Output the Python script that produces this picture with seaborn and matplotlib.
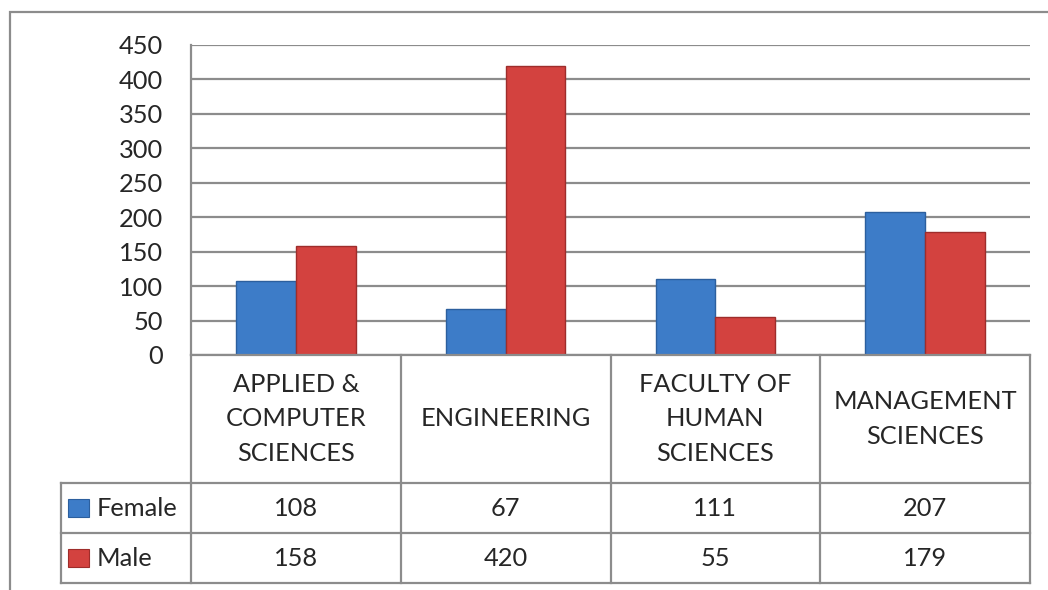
import matplotlib
matplotlib.use("Agg")
import matplotlib.pyplot as plt
from matplotlib.patches import Rectangle
import seaborn as sns
import pandas as pd

#================================
# DATA
#================================
categories = ["APPLIED &\nCOMPUTER\nSCIENCES", "ENGINEERING",
              "FACULTY OF\nHUMAN\nSCIENCES", "MANAGEMENT\nSCIENCES"]
female = [108, 67, 111, 207]
male = [158, 420, 55, 179]
series = ["Female", "Male"]
yticks = [0, 50, 100, 150, 200, 250, 300, 350, 400, 450]

colors = {"Female": "#3d7cc8", "Male": "#d3423f"}
edges = {"Female": "#2c5f9e", "Male": "#9e2d2b"}
grid_color = "#8c8c8c"

df = pd.DataFrame({
    "category": categories * 2,
    "value": female + male,
    "gender": ["Female"] * 4 + ["Male"] * 4,
})

sns.set_style("white")
plt.rcParams["font.family"] = ["Lato", "DejaVu Sans"]
FS = 18.3

W, H = 1048, 590
fig = plt.figure(figsize=(W / 100, H / 100), dpi=100)

#================================
# BAR CHART
#================================
ax = fig.add_axes([191 / W, 1 - 355 / H, 839 / W, 310 / H])
sns.barplot(data=df, x="category", y="value", hue="gender", palette=colors,
            width=0.57, saturation=1, ax=ax, legend=False)
for bar, g in zip(ax.patches, ["Female"] * 4 + ["Male"] * 4):
    bar.set_edgecolor(edges[g])
    bar.set_linewidth(1.0)

ax.set_xlim(-0.5, 3.5)
ax.set_ylim(0, 450)
ax.set_yticks(yticks)
ax.set_xticks([])
ax.set_xlabel("")
ax.set_ylabel("")
ax.grid(axis="y", color=grid_color, lw=1.6)
ax.set_axisbelow(True)
for s in ["top", "right", "bottom"]:
    ax.spines[s].set_visible(False)
ax.spines["left"].set_color(grid_color)
ax.spines["left"].set_linewidth(1.6)
ax.tick_params(axis="y", length=0, labelsize=FS, pad=20)

#================================
# DATA TABLE
#================================
cw = 839 / 4
hx = -0.5 - 130 / cw
tax = fig.add_axes([61 / W, 1 - 583 / H, 969 / W, 228 / H])
tax.set_xlim(hx, 3.5)
tax.set_ylim(228, 0)
tax.axis("off")

lk = dict(color=grid_color, lw=1.6, clip_on=False, solid_capstyle="projecting")
tax.plot([-0.5, 3.5], [0, 0], **lk)
for y in [128, 178, 228]:
    tax.plot([hx, 3.5], [y, y], **lk)
for k in range(5):
    tax.plot([-0.5 + k, -0.5 + k], [0, 228], **lk)
tax.plot([hx, hx], [128, 228], **lk)

for i, c in enumerate(categories):
    tax.text(i, 64, c, ha="center", va="center", fontsize=FS, linespacing=1.6)

for r, (name, vals) in enumerate(zip(series, [female, male])):
    yc = 153 + 50 * r
    tax.add_patch(Rectangle((hx + 7 / cw, yc - 9), 21 / cw, 18,
                            facecolor=colors[name], edgecolor=edges[name], lw=0.8))
    tax.text(hx + 36 / cw, yc, name, ha="left", va="center", fontsize=FS)
    for i, v in enumerate(vals):
        tax.text(i, yc, str(v), ha="center", va="center", fontsize=FS)

# outer chart border
fig.add_artist(Rectangle((10 / W, -0.1), 1.2, 1.1 - 12 / H, transform=fig.transFigure,
                         fill=False, edgecolor=grid_color, lw=1.6))

fig.savefig("out.png", dpi=100)
